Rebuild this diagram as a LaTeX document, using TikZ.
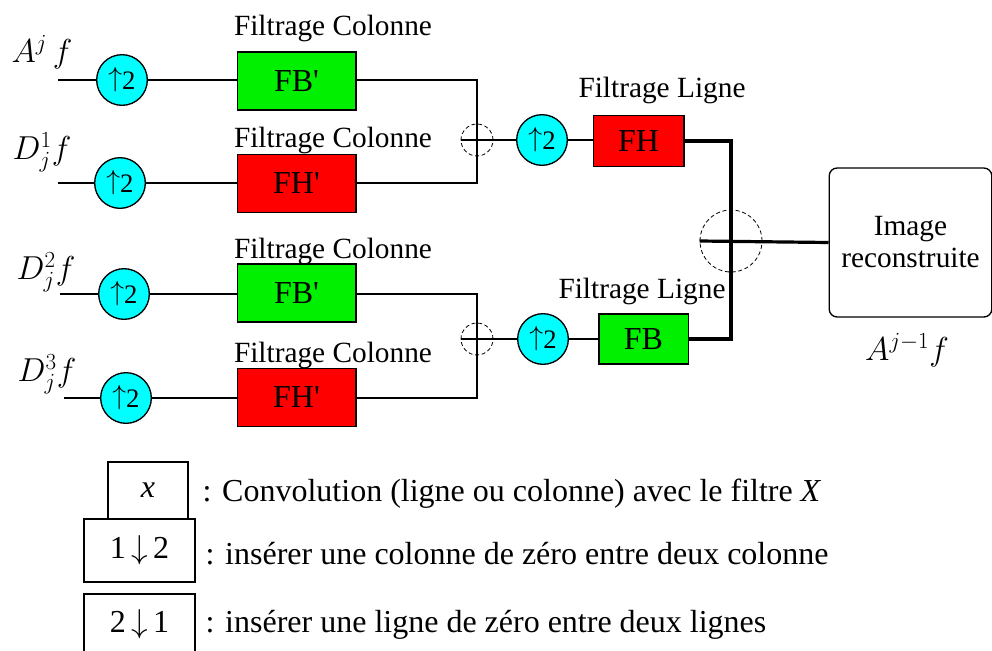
\documentclass[tikz,border=0pt]{standalone}
\usepackage{fontspec}
\setmainfont{Liberation Serif}
\newfontfamily\boxfont{Liberation Serif}
\newcommand{\setfs}[1]{\fontsize{#1}{#1}\selectfont}
\definecolor{upcyan}{RGB}{0,255,255}
\definecolor{boxgreen}{RGB}{0,240,0}
\definecolor{boxred}{RGB}{255,0,0}
\begin{document}
\begin{tikzpicture}[x = .75pt, y = -.75pt, line width = 1pt,
    upsamp/.style = {circle, draw, fill = upcyan, inner sep = 0pt,
                     minimum size = 38pt, font = \setfs{20}},
    colbox/.style = {rectangle, draw, minimum width = 89pt,
                     minimum height = 43.5pt, font = \boxfont\setfs{24}},
    sumnode/.style = {circle, draw, densely dashed, line width = .6pt,
                      inner sep = 0pt, minimum size = 24pt},
    lab/.style = {font = \setfs{22}, anchor = base, inner sep = 0pt},
    legtext/.style = {font = \setfs{24}, anchor = base west, inner sep = 0pt}]
  \useasboundingbox (0,0) rectangle (992,650);

  % entrees
  \coordinate (i1) at (58,80);
  \coordinate (i2) at (58,183);
  \coordinate (i3) at (60,294);
  \coordinate (i4) at (64,398);
  \node [font = \setfs{25}] (la1) at (42,52) {$A^{j}\,f$};
  \node [font = \setfs{25}] (ld1) at (42,152) {$D_{j}^{1}f$};
  \node [font = \setfs{25}] (ld2) at (46,272) {$D_{j}^{2}f$};
  \node [font = \setfs{25}] (ld3) at (47,374) {$D_{j}^{3}f$};

  \node [upsamp] (u1) at (122,80) {$\uparrow$\raisebox{-2pt}{2}};
  \node [upsamp] (u2) at (120,183) {$\uparrow$\raisebox{-2pt}{2}};
  \node [upsamp] (u3) at (124,294) {$\uparrow$\raisebox{-2pt}{2}};
  \node [upsamp] (u4) at (126,398) {$\uparrow$\raisebox{-2pt}{2}};

  % filtrage colonne
  \node [colbox, fill = boxgreen] (c1) at (296.5,81) {\raisebox{-5pt}{FB'}};
  \node [colbox, fill = boxred] (c2) at (296.5,183.5) {\raisebox{-6pt}{FH'}};
  \node [colbox, fill = boxgreen] (c3) at (296.5,293) {\raisebox{-5pt}{FB'}};
  \node [colbox, fill = boxred] (c4) at (296.5,397.5) {\raisebox{-6pt}{FH'}};
  \node [lab] (t1) at (333,35) {Filtrage Colonne};
  \node [lab] (t2) at (333,147) {Filtrage Colonne};
  \node [lab] (t3) at (333,258) {Filtrage Colonne};
  \node [lab] (t4) at (333,362) {Filtrage Colonne};

  \foreach \k in {1,...,4} {
    \draw (i\k) -- (u\k);
    \draw (u\k.east) -- (u\k.east -| c\k.west);
  }

  % sommes et filtrage ligne
  \node [sumnode] (s1) at (477,140) {};
  \node [sumnode] (s2) at (477,339) {};
  \node [upsamp] (u5) at (542,140) {$\uparrow$\raisebox{-2pt}{2}};
  \node [upsamp] (u6) at (543,339) {$\uparrow$\raisebox{-2pt}{2}};
  \node [colbox, fill = boxred, minimum width = 68pt, minimum height = 38pt]
    (fh) at (638.5,141) {\raisebox{-5pt}{FH}};
  \node [colbox, fill = boxgreen, minimum width = 67pt, minimum height = 37.5pt]
    (fb) at (643.5,339) {\raisebox{-4pt}{FB}};
  \node [lab] (tl1) at (662,97) {Filtrage Ligne};
  \node [lab] (tl2) at (642,298) {Filtrage Ligne};

  \draw (c1.east |- u1) -| (s1.center) |- (c2.east |- u2);
  \draw (c3.east |- u3) -| (s2.center) |- (c4.east |- u4);
  \draw (s1.west) -- (u5);
  \draw (s2.west) -- (u6);
  \draw (u5.east) -- (u5.east -| fh.west);
  \draw (u6.east) -- (u6.east -| fb.west);

  % recombinaison
  \node [sumnode, minimum size = 46.5pt] (s3) at (731,241) {};
  \node [draw, rounded corners = 6pt, minimum width = 122pt,
         minimum height = 111.75pt, align = center, font = \setfs{22}]
    (img) at (910.5,242.5) {Image\\[2pt]reconstruite};
  \node [font = \setfs{25}] (out) at (907,350) {$A^{j-1}f$};
  \draw [line width = 2.4pt] (fh.east) -| (s3.center) |- (fb.east);
  \draw [line width = 2.4pt] (s3.west) -- (img.west);

  % legende
  \node [draw, minimum width = 60pt, minimum height = 42.75pt,
         font = \setfs{24}] (bx) at (148,490.5) {\textit{x}};
  \node [draw, minimum width = 83.25pt, minimum height = 47.25pt,
         font = \setfs{24}] (b12) at (139.5,550.5) {1\,$\downarrow$\,2};
  \node [draw, minimum width = 83.25pt, minimum height = 45pt,
         font = \setfs{24}] (b21) at (139.5,624) {2\,$\downarrow$\,1};
  \node [legtext] (l1) at (202,501)
    {: Convolution (ligne ou colonne) avec le filtre \textit{X}};
  \node [legtext] (l2) at (205,564)
    {: insérer une colonne de zéro entre deux colonne};
  \node [legtext] (l3) at (205,632)
    {: insérer une ligne de zéro entre deux lignes};
\end{tikzpicture}
\end{document}
